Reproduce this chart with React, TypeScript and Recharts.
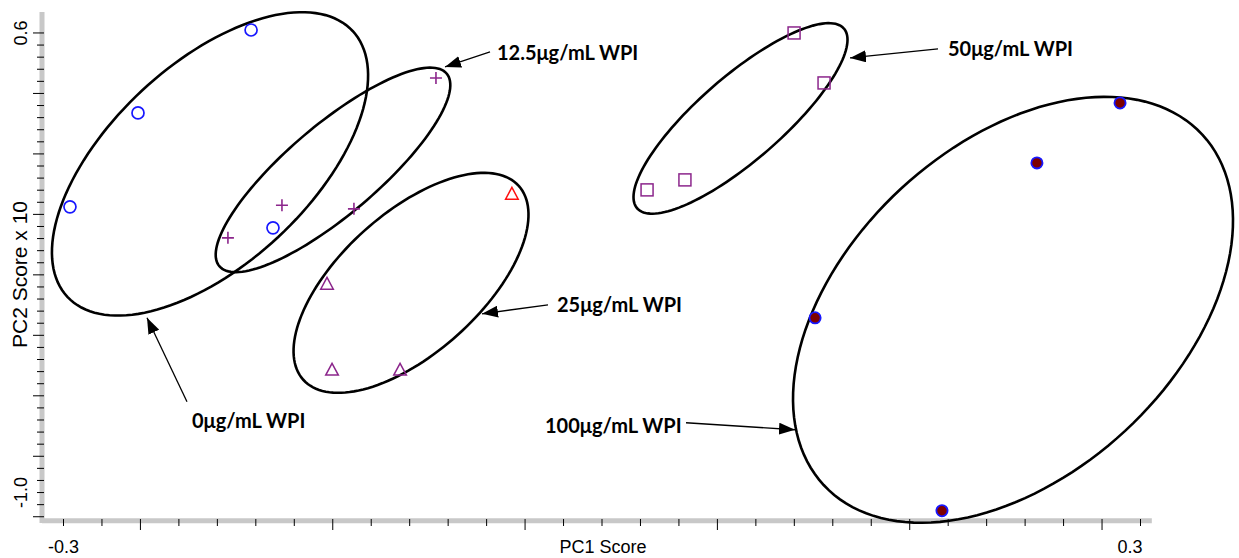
import { ScatterChart, Scatter, XAxis, YAxis, ReferenceDot, ReferenceLine } from "recharts";

type Pt = { x: number; y: number };

// PC1 / PC2 scores for each WPI concentration
const wpi0: Pt[] = [
  { x: -0.2964, y: -0.0054 },
  { x: -0.2585, y: 0.3216 },
  { x: -0.1955, y: 0.6104 },
  { x: -0.1833, y: -0.0785 },
];
const wpi12_5: Pt[] = [
  { x: -0.2084, y: -0.1133 },
  { x: -0.1783, y: 0.0 },
  { x: -0.1382, y: -0.0124 },
  { x: -0.0925, y: 0.4434 },
];
const wpi25: Pt[] = [
  { x: -0.1532, y: -0.2734 },
  { x: -0.1504, y: -0.5726 },
  { x: -0.1125, y: -0.5726 },
];
// flagged replicate, drawn in red
const wpi25Flag: Pt[] = [{ x: -0.0502, y: 0.0398 }];
const wpi50: Pt[] = [
  { x: 0.0251, y: 0.0537 },
  { x: 0.0462, y: 0.0885 },
  { x: 0.107, y: 0.6 },
  { x: 0.1237, y: 0.426 },
];
const wpi100: Pt[] = [
  { x: 0.1187, y: -0.3917 },
  { x: 0.1894, y: -1.0632 },
  { x: 0.2423, y: 0.1477 },
  { x: 0.2886, y: 0.3564 },
];

// group ellipses: centre plus major (a) and minor (b) half-axis vectors, score units
const ellipses = [
  { cx: -0.21838, cy: 0.1442, ax: 0.07945, ay: 0.4628, bx: 0.038, by: -0.2545 },
  { cx: -0.14986, cy: 0.1233, ax: 0.06331, ay: 0.3354, bx: 0.01622, by: -0.1193 },
  { cx: -0.1064, cy: -0.2699, ax: 0.06002, ay: 0.3375, bx: 0.02609, by: -0.1809 },
  { cx: 0.07716, cy: 0.3025, ax: 0.0576, ay: 0.3128, bx: 0.01535, by: -0.1103 },
  { cx: 0.22897, cy: -0.3638, ax: 0.10546, ay: 0.61, bx: 0.06245, by: -0.4214 },
];

const groupNames = ["0μg/mL WPI", "12.5μg/mL WPI", "25μg/mL WPI", "50μg/mL WPI", "100μg/mL WPI"];
const namePos: Pt[] = [
  { x: -0.22841, y: -0.7466 },
  { x: -0.0585, y: 0.5339 },
  { x: -0.02507, y: -0.3429 },
  { x: 0.19276, y: 0.5478 },
  { x: -0.03175, y: -0.764 },
];
// arrow tail -> head for each group name
const arrows: Pt[][] = [
  [{ x: -0.2312, y: -0.6839 }, { x: -0.25348, y: -0.3917 }],
  [{ x: -0.0624, y: 0.5339 }, { x: -0.08747, y: 0.4817 }],
  [{ x: -0.03008, y: -0.3464 }, { x: -0.06685, y: -0.3777 }],
  [{ x: 0.18719, y: 0.5443 }, { x: 0.13816, y: 0.513 }],
  [{ x: 0.0468, y: -0.757 }, { x: 0.10752, y: -0.7813 }],
];

const xTicks = Array.from({ length: 29 }, (_, i) => -0.3 + (i * 0.6) / 28);
const xTickText: Record<number, string> = { 0: "-0.3", 28: "0.3" };
const yTicks = Array.from({ length: 41 }, (_, i) => 0.6 - (i * 1.6) / 38);
const yTickText: Record<number, string> = { 0: "0.6", 38: "-1.0" };

// axis frame: the x band stops short of the right-hand ellipse
const X_MIN = -0.31198;
const X_BAND_END = 0.3063;
const Y_BAND = -1.098;

const BLUE = "#1717ff";
const PURPLE = "#8c268c";
const BAND = "#c8c8c8";
const AXIS_FONT = "'Liberation Sans', Arial, sans-serif";
const NOTE_FONT = "Lato, 'Open Sans', sans-serif";

const outline = (e: (typeof ellipses)[number]) =>
  Array.from({ length: 145 }, (_, i) => {
    const t = (i / 144) * 2 * Math.PI;
    return {
      x: e.cx + e.ax * Math.cos(t) + e.bx * Math.sin(t),
      y: e.cy + e.ay * Math.cos(t) + e.by * Math.sin(t),
    };
  });

const Nothing = () => <g />;

const OpenCircle = ({ cx, cy }: any) => (
  <circle cx={cx} cy={cy} r={6} fill="none" stroke={BLUE} strokeWidth={1.7} />
);
const Plus = ({ cx, cy }: any) => (
  <path d={`M${cx - 6},${cy}H${cx + 6}M${cx},${cy - 6}V${cy + 6}`} stroke={PURPLE} strokeWidth={1.6} />
);
const triangle = (color: string) => ({ cx, cy }: any) => (
  <path
    d={`M${cx},${cy - 6.5}L${cx + 6.3},${cy + 5.3}L${cx - 6.3},${cy + 5.3}Z`}
    fill="none"
    stroke={color}
    strokeWidth={1.5}
  />
);
const Square = ({ cx, cy }: any) => (
  <rect x={cx - 6} y={cy - 6} width={12} height={12} fill="none" stroke={PURPLE} strokeWidth={1.5} />
);
const FilledDot = ({ cx, cy }: any) => (
  <circle cx={cx} cy={cy} r={5.6} fill="#7d0000" stroke={BLUE} strokeWidth={1.8} />
);

// the plot bottom sits ~2px under the grey band (ellipse overhang)
function XTick({ x, y, index }: any) {
  const band = y - 2;
  const major = index % 5 === 2;
  const text = xTickText[index];
  return (
    <g>
      <line x1={x} x2={x} y1={band - 2} y2={band + (major ? 9 : 5)} stroke="#000" strokeWidth={1} />
      {text && (
        <text
          x={index === 28 ? x + 2 : x}
          y={band + 32}
          textAnchor={index === 28 ? "end" : "middle"}
          fontFamily={AXIS_FONT}
          fontSize={18}
          fill="#000"
        >
          {text}
        </text>
      )}
    </g>
  );
}

function YTick({ x, y, index }: any) {
  const major = index % 5 === 0;
  return (
    <g>
      <line x1={x + 2} x2={x - (major ? 9 : 5)} y1={y} y2={y} stroke="#000" strokeWidth={1} />
      {yTickText[index] && (
        <text
          x={27}
          y={y}
          textAnchor="middle"
          transform={`rotate(-90, 27, ${y})`}
          fontFamily={AXIS_FONT}
          fontSize={18}
          fill="#000"
        >
          {yTickText[index]}
        </text>
      )}
    </g>
  );
}

export default function App() {
  return (
    <div
      style={{
        position: "absolute",
        left: 0,
        top: 0,
        width: 1239,
        height: 558,
        overflow: "hidden",
        background: "#fff",
      }}
    >
      <ScatterChart width={1239} height={558} margin={{ top: 12, right: 3, bottom: 0, left: 0 }}>
        <defs>
          <marker
            id="arrowHead"
            viewBox="0 0 16 12"
            refX={16}
            refY={6}
            markerWidth={16}
            markerHeight={12}
            markerUnits="userSpaceOnUse"
            orient="auto"
          >
            <path d="M0,0 L16,6 L0,12 Z" fill="#000" />
          </marker>
        </defs>
        <XAxis
          type="number"
          dataKey="x"
          domain={[X_MIN, 0.3532]}
          ticks={xTicks}
          interval={0}
          height={35}
          tickSize={0}
          tickMargin={0}
          tick={<XTick />}
          axisLine={false}
          tickLine={false}
          label={{
            value: "PC1 Score",
            position: "insideBottom",
            offset: 5,
            dx: -36,
            style: { fontFamily: AXIS_FONT, fontSize: 18, fill: "#000" },
          }}
        />
        <YAxis
          type="number"
          dataKey="y"
          domain={[-1.106, 0.673]}
          ticks={yTicks}
          interval={0}
          width={42}
          tickSize={0}
          tickMargin={0}
          tick={<YTick />}
          axisLine={{ stroke: BAND, strokeWidth: 5 }}
          tickLine={false}
          label={{
            value: "PC2 Score x 10",
            angle: -90,
            position: "insideLeft",
            offset: 20,
            dy: 7,
            style: { fontFamily: AXIS_FONT, fontSize: 21, fill: "#000", textAnchor: "middle" },
          }}
        />

        <ReferenceLine
          segment={[
            { x: X_MIN, y: Y_BAND },
            { x: X_BAND_END, y: Y_BAND },
          ]}
          stroke={BAND}
          strokeWidth={5}
          ifOverflow="visible"
        />

        {ellipses.map((e, i) => (
          <Scatter
            key={`ell-${i}`}
            data={outline(e)}
            shape={Nothing}
            line={{ stroke: "#000", strokeWidth: 2.6 }}
            isAnimationActive={false}
          />
        ))}

        <Scatter data={wpi0} shape={OpenCircle} isAnimationActive={false} />
        <Scatter data={wpi12_5} shape={Plus} isAnimationActive={false} />
        <Scatter data={wpi25} shape={triangle(PURPLE)} isAnimationActive={false} />
        <Scatter data={wpi25Flag} shape={triangle("#ff1010")} isAnimationActive={false} />
        <Scatter data={wpi50} shape={Square} isAnimationActive={false} />
        <Scatter data={wpi100} shape={FilledDot} isAnimationActive={false} />

        {arrows.map((a, i) => (
          <Scatter
            key={`arrow-${i}`}
            data={a}
            shape={Nothing}
            line={{ stroke: "#000", strokeWidth: 1.3, markerEnd: "url(#arrowHead)" }}
            isAnimationActive={false}
          />
        ))}

        {groupNames.map((name, i) => (
          <ReferenceDot
            key={name}
            x={namePos[i].x}
            y={namePos[i].y}
            r={0}
            shape={(p: any) => (
              <text
                x={p.cx}
                y={p.cy}
                dominantBaseline="central"
                fontFamily={NOTE_FONT}
                fontWeight={700}
                fontSize={20}
                fill="#000"
              >
                {name}
              </text>
            )}
          />
        ))}
      </ScatterChart>
    </div>
  );
}
